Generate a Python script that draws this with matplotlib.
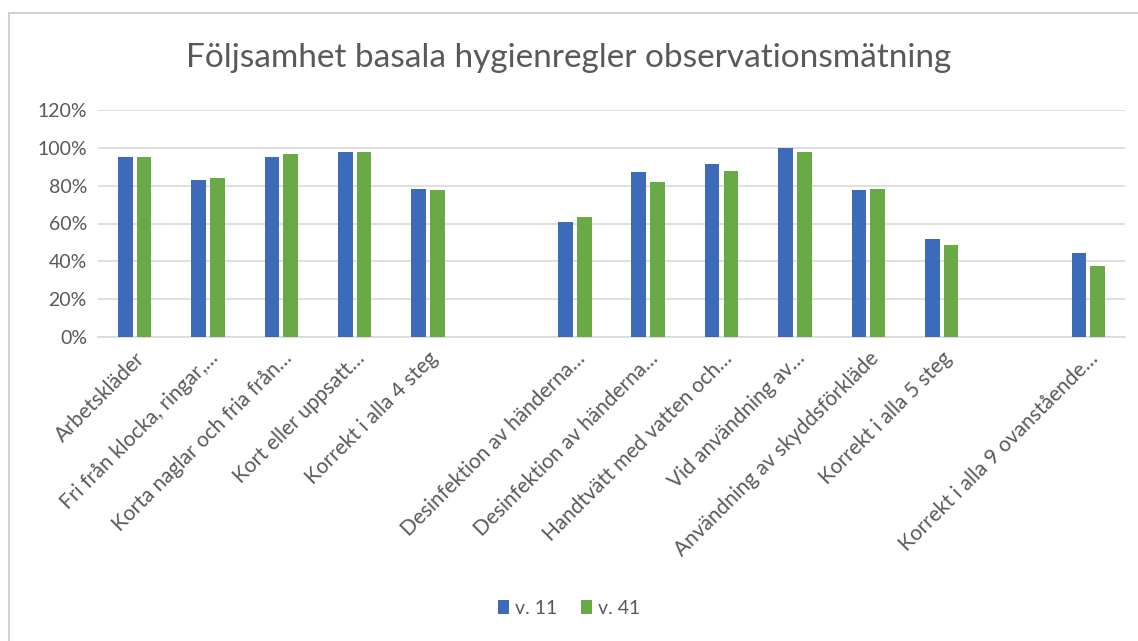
import numpy as np
import matplotlib.pyplot as plt
from matplotlib.patches import Rectangle
from matplotlib.ticker import PercentFormatter

categories = ['Arbetskläder', 'Fri från klocka, ringar,…', 'Korta naglar och fria från…',
              'Kort eller uppsatt…', 'Korrekt i alla 4 steg', '',
              'Desinfektion av händerna…', 'Desinfektion av händerna…',
              'Handtvätt med vatten och…', 'Vid användning av…',
              'Användning av skyddsförkläde', 'Korrekt i alla 5 steg', '',
              'Korrekt i alla 9 ovanstående…']
v11 = [95, 83, 95, 98, 78.5, np.nan, 61, 87, 91.7, 100, 77.6, 51.8, np.nan, 44.5]
v41 = [95, 84, 97, 98, 77.8, np.nan, 63.5, 82, 87.7, 98, 78.5, 48.6, np.nan, 37.5]
series_names = ['v. 11', 'v. 41']

blue = '#3D6BBA'
green = '#69AA46'
grey = '#595959'

plt.rcParams['font.family'] = ['Lato', 'DejaVu Sans']

fig = plt.figure(figsize=(11.38, 6.41), dpi=100)
fig.patches.append(Rectangle((9 / 1138, -0.1), 1.2, 1 - 13 / 641 + 0.1,
                             transform=fig.transFigure, fill=False,
                             edgecolor='#d0d0d0', linewidth=1.5))

ax = fig.add_axes([98 / 1138, 1 - 337 / 641, (1125 - 98) / 1138, (337 - 110) / 641])
x = np.arange(len(categories))
w = 0.2
ax.bar(x - 0.128, v11, w, color=blue, label=series_names[0], zorder=3)
ax.bar(x + 0.128, v41, w, color=green, label=series_names[1], zorder=3)

ax.set_xlim(-0.5, len(categories) - 0.5)
ax.set_ylim(0, 120)
ax.set_yticks(range(0, 121, 20))
ax.yaxis.set_major_formatter(PercentFormatter(decimals=0))
ax.grid(axis='y', color='#d9d9d9', linewidth=1.2, zorder=0)
for s in ['top', 'right', 'left']:
    ax.spines[s].set_visible(False)
ax.spines['bottom'].set_color('#d9d9d9')
ax.spines['bottom'].set_linewidth(1.2)
ax.tick_params(axis='both', length=0, labelsize=14, colors=grey, pad=8)
ax.set_xticks(x)
ax.set_xticklabels(categories, rotation=45, ha='right', va='top',
                   rotation_mode='anchor')
for lbl in ax.get_xticklabels():
    lbl.set_fontsize(15)

fig.text(0.5, 1 - 58 / 641, 'Följsamhet basala hygienregler observationsmätning',
         ha='center', va='center', fontsize=24, color=grey)

fig.legend(loc='center', bbox_to_anchor=(0.5, 1 - 608 / 641), ncol=2,
           frameon=False, fontsize=14, labelcolor=grey, handlelength=0.6,
           handleheight=0.7, handletextpad=0.3, columnspacing=1.2)

fig.savefig('out.png', dpi=100)
